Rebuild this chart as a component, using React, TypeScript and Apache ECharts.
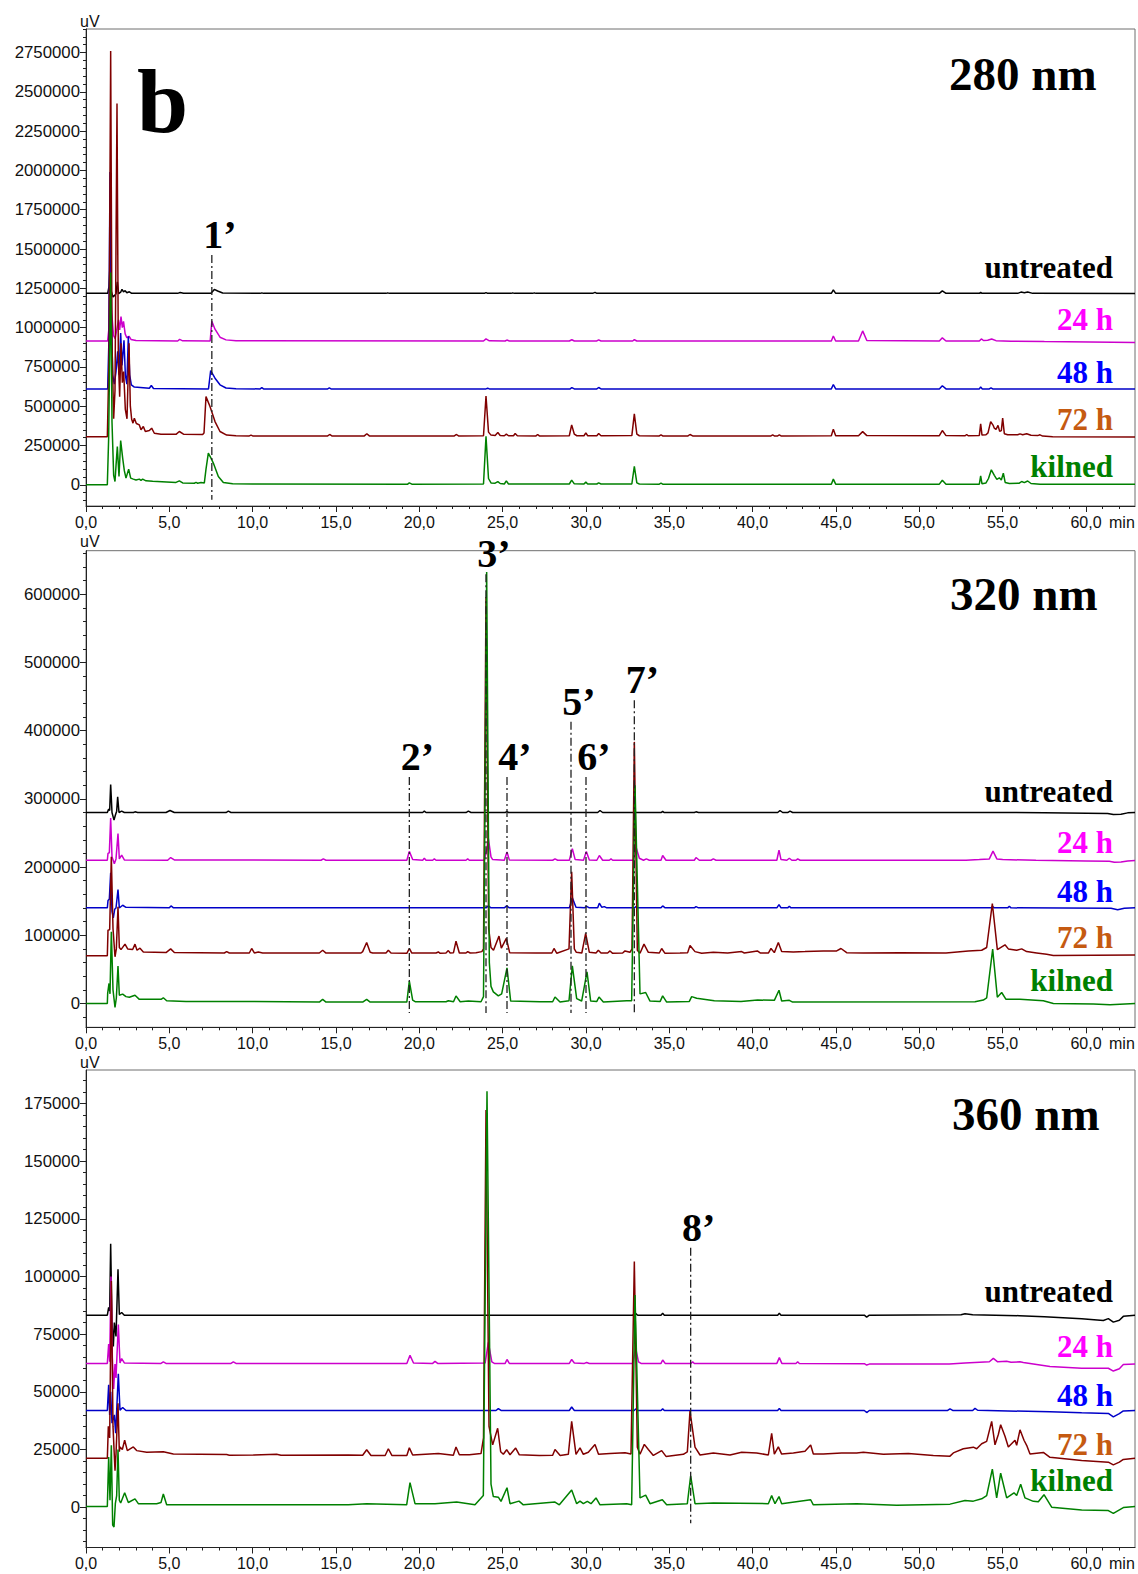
import React, { useEffect, useRef } from 'react';
import * as echarts from 'echarts';

// ---------- axes ----------
const X_MAX = 62.94;
const xMajor = [0, 5, 10, 15, 20, 25, 30, 35, 40, 45, 50, 55, 60];
const y280Major = [0, 250000, 500000, 750000, 1000000, 1250000, 1500000, 1750000, 2000000, 2250000, 2500000, 2750000];
const y320Major = [0, 100000, 200000, 300000, 400000, 500000, 600000];
const y360Major = [0, 25000, 50000, 75000, 100000, 125000, 150000, 175000];

const traceNames = ['untreated', '24 h', '48 h', '72 h', 'kilned'];
const lineColors = ['#000000', '#cc00cc', '#0000c8', '#800000', '#008000'];
const labelColors = ['#000000', '#ff00ff', '#0000ff', '#c55a11', '#008000'];

// ---------- 280 nm ----------
const u280 = [[0,1218000],[1.3,1218000],[1.38,1260000],[1.45,1420000],[1.52,1230000],[1.62,1195000],[1.72,1205000],[1.8,1215000],[1.88,1292000],[1.96,1216000],[2.08,1225000],[2.16,1244000],[2.25,1228000],[2.35,1235000],[2.45,1222000],[2.6,1228000],[2.72,1219000],[5.5,1218000],[5.65,1223000],[5.85,1218000],[7.5,1218000],[7.7,1243000],[7.9,1233000],[8.2,1220000],[10.45,1218000],[10.55,1221000],[10.65,1218000],[18.0,1218000],[18.1,1221000],[18.2,1218000],[23.9,1218000],[24.0,1223000],[24.1,1218000],[25.5,1218000],[25.6,1221000],[25.7,1218000],[26.8,1218000],[26.9,1221000],[27.0,1218000],[30.4,1218000],[30.54,1224000],[30.65,1218000],[44.72,1218000],[44.84,1240000],[44.98,1218000],[51.2,1218000],[51.38,1234000],[51.6,1218000],[53.6,1218000],[53.68,1224000],[53.76,1218000],[55.9,1218000],[56.1,1226000],[56.3,1222000],[56.5,1226000],[56.8,1218000],[62.94,1217000]];
const h24_280 = [[0,915000],[1.3,915000],[1.38,1000000],[1.46,1550000],[1.54,1100000],[1.65,950000],[1.75,930000],[1.85,990000],[1.95,1050000],[2.02,985000],[2.1,1070000],[2.18,1000000],[2.25,1040000],[2.35,960000],[2.45,935000],[2.58,945000],[2.7,925000],[3.0,918000],[5.5,915000],[5.62,925000],[5.8,916000],[7.45,915000],[7.55,1040000],[7.74,990000],[8.04,939000],[8.4,922000],[9.0,916000],[23.85,915000],[24.0,928000],[24.2,916000],[25.15,915000],[25.25,921000],[25.4,915000],[29.0,915000],[29.15,923000],[29.3,915000],[30.65,915000],[30.76,922000],[30.9,915000],[32.8,915000],[32.9,923000],[33.05,915000],[44.72,915000],[44.84,947000],[44.98,915000],[46.35,915000],[46.6,979000],[46.85,918000],[51.2,915000],[51.38,935000],[51.6,915000],[53.6,915000],[53.72,928000],[53.85,918000],[54.1,920000],[54.34,928000],[54.6,917000],[55.5,914000],[57.5,911000],[62.94,906000]];
const h48_280 = [[0,610000],[1.3,610000],[1.37,900000],[1.44,1990000],[1.52,1100000],[1.6,700000],[1.7,640000],[1.8,720000],[1.9,850000],[1.98,700000],[2.08,965000],[2.16,760000],[2.28,920000],[2.36,700000],[2.45,640000],[2.54,945000],[2.62,700000],[2.72,636000],[2.9,622000],[3.8,614000],[3.92,632000],[4.05,613000],[7.35,610000],[7.48,727000],[7.74,678000],[8.04,636000],[8.4,616000],[9.0,611000],[10.45,610000],[10.55,618000],[10.65,610000],[14.5,610000],[14.6,616000],[14.7,610000],[24.0,610000],[24.1,614000],[24.2,610000],[29.05,610000],[29.15,618000],[29.3,610000],[30.65,610000],[30.76,619000],[30.9,610000],[44.72,610000],[44.84,638000],[44.98,610000],[51.2,610000],[51.38,630000],[51.6,610000],[53.6,610000],[53.68,622000],[53.78,610000],[54.2,610000],[54.3,617000],[54.4,610000],[62.94,609000]];
const h72_280 = [[0,305000],[1.28,305000],[1.38,800000],[1.48,2760000],[1.56,900000],[1.66,420000],[1.74,600000],[1.86,2426000],[1.94,800000],[2.02,560000],[2.1,900000],[2.18,650000],[2.26,720000],[2.36,480000],[2.46,420000],[2.58,900000],[2.66,500000],[2.74,417000],[2.82,392000],[2.9,424000],[3.02,390000],[3.2,381000],[3.3,350000],[3.44,371000],[3.56,339000],[3.8,345000],[3.94,360000],[4.1,328000],[4.5,322000],[5.4,321000],[5.6,339000],[5.85,322000],[7.0,320000],[7.08,330000],[7.2,561000],[7.44,498000],[7.74,402000],[8.04,339000],[8.44,316000],[9.0,312000],[9.8,311000],[9.9,316000],[10.0,311000],[14.5,311000],[14.62,320000],[14.75,311000],[16.7,311000],[16.85,325000],[17.0,311000],[22.1,311000],[22.23,320000],[22.35,311000],[23.85,312000],[24.0,565000],[24.15,335000],[24.3,316000],[24.55,314000],[24.71,333000],[24.85,314000],[25.1,312000],[25.22,322000],[25.35,312000],[25.65,312000],[25.75,326000],[25.88,312000],[27.0,311000],[27.1,320000],[27.2,311000],[29.0,312000],[29.14,381000],[29.3,322000],[29.45,312000],[29.88,312000],[29.99,330000],[30.1,312000],[30.65,312000],[30.76,326000],[30.9,312000],[32.75,313000],[32.9,451000],[33.05,322000],[33.2,312000],[34.4,311000],[34.5,318000],[34.6,311000],[36.12,311000],[36.24,320000],[36.4,311000],[41.1,311000],[41.2,317000],[41.3,311000],[41.5,311000],[41.6,317000],[41.7,311000],[44.72,312000],[44.84,354000],[44.98,312000],[46.35,312000],[46.6,338000],[46.85,313000],[51.2,312000],[51.38,345000],[51.6,313000],[52.75,312000],[52.84,320000],[52.93,312000],[53.6,314000],[53.68,388000],[53.76,316000],[54.0,318000],[54.12,330000],[54.28,402000],[54.42,380000],[54.5,360000],[54.6,352000],[54.72,378000],[54.82,340000],[54.92,345000],[55.0,424000],[55.1,325000],[55.3,318000],[55.9,318000],[56.04,324000],[56.2,318000],[56.44,325000],[56.7,315000],[57.1,313000],[57.24,318000],[57.4,310000],[58.0,306000],[62.94,304000]];
const k280 = [[0,0],[1.28,0],[1.36,300000],[1.48,1350000],[1.56,400000],[1.66,60000],[1.74,21000],[1.8,120000],[1.88,243000],[1.98,53000],[2.08,282000],[2.2,170000],[2.3,90000],[2.4,42500],[2.56,99800],[2.68,42500],[2.84,36000],[3.0,30000],[3.2,36000],[3.3,28000],[3.4,36000],[3.6,25000],[4.0,22000],[5.4,15000],[5.6,25000],[5.8,12000],[6.5,10000],[6.6,15000],[6.7,10000],[6.9,14000],[7.1,12000],[7.2,100000],[7.34,201000],[7.5,170000],[7.64,138000],[7.94,53000],[8.24,15000],[8.8,7000],[10.0,5000],[19.3,4000],[19.4,12000],[19.55,4000],[23.85,5000],[24.0,308000],[24.15,40000],[24.3,12000],[24.55,10000],[24.71,20000],[24.85,8000],[25.1,5000],[25.22,25000],[25.35,5000],[29.0,5000],[29.14,30000],[29.3,6000],[29.88,5000],[29.99,17000],[30.1,5000],[30.65,5000],[30.76,12000],[30.9,5000],[32.75,5000],[32.9,117000],[33.05,12000],[33.2,5000],[34.4,4000],[34.5,10000],[34.6,4000],[44.72,4000],[44.84,36000],[44.98,4000],[51.2,4000],[51.38,29000],[51.6,4000],[53.6,4000],[53.68,57000],[53.76,6000],[54.0,12000],[54.15,40000],[54.32,95000],[54.5,60000],[54.65,35000],[54.8,44000],[54.92,30000],[55.04,74000],[55.15,15000],[55.4,8000],[56.0,10000],[56.14,21000],[56.3,14000],[56.5,24000],[56.7,8000],[57.24,4000],[62.94,4000]];

// ---------- 320 nm ----------
const u320 = [[0,280000],[1.28,280000],[1.36,285000],[1.42,283000],[1.48,321000],[1.56,280000],[1.68,268800],[1.76,276000],[1.84,282000],[1.9,303000],[1.98,280000],[2.14,282000],[2.3,280000],[2.85,280000],[2.94,281000],[3.1,280000],[4.8,280000],[5.04,283000],[5.3,280000],[8.4,280000],[8.54,282000],[8.7,280000],[20.2,280000],[20.3,282000],[20.4,280000],[22.8,280000],[22.94,282000],[23.1,280000],[25.15,280000],[25.24,281500],[25.35,280000],[30.7,280000],[30.84,283000],[31.0,280000],[34.5,280000],[34.6,281500],[34.7,280000],[36.5,280000],[36.6,281000],[36.75,280000],[41.5,280000],[41.64,283000],[41.8,280000],[42.1,280000],[42.24,282000],[42.4,280000],[55.5,280000],[57.5,279500],[61.3,278500],[61.64,277000],[62.1,277500],[62.5,279500],[62.94,280000]];
const h24_320 = [[0,210000],[1.28,210000],[1.32,220000],[1.4,221000],[1.48,272000],[1.56,215000],[1.7,205000],[1.8,212000],[1.92,249000],[2.0,212000],[2.14,217500],[2.3,210500],[4.9,210000],[5.08,214000],[5.3,210500],[14.1,210000],[14.24,212000],[14.4,210000],[19.25,210000],[19.4,223000],[19.6,211000],[20.2,210000],[20.3,213000],[20.4,210000],[20.8,210000],[20.9,212000],[21.0,210000],[22.8,210000],[22.9,212000],[23.0,210000],[23.9,210000],[24.04,225000],[24.14,242000],[24.3,215000],[24.4,211000],[25.1,210000],[25.26,222000],[25.4,210500],[28.0,210000],[28.14,212000],[28.3,210000],[29.0,210000],[29.18,227000],[29.35,211000],[29.85,210000],[30.02,223000],[30.2,210500],[30.65,210000],[30.8,217000],[31.0,210000],[31.4,210000],[31.5,212000],[31.6,210000],[32.85,210000],[33.0,229500],[33.2,213000],[33.45,210000],[33.62,212000],[33.8,210000],[34.5,210000],[34.6,217000],[34.8,210000],[36.5,210000],[36.6,214000],[36.8,210000],[37.5,210000],[37.64,212000],[37.8,210000],[41.45,210000],[41.58,224800],[41.7,211000],[42.05,210000],[42.2,213000],[42.35,210000],[42.6,210000],[42.7,212000],[42.85,210000],[52.8,210000],[53.6,211000],[54.2,212000],[54.42,223300],[54.65,212000],[55.0,211000],[57.0,210000],[60.0,209000],[61.4,208500],[61.7,207000],[62.1,207500],[62.5,209000],[62.94,209500]];
const h48_320 = [[0,140200],[1.28,140200],[1.32,151000],[1.4,153000],[1.48,191500],[1.56,135000],[1.64,125500],[1.72,138000],[1.8,140000],[1.92,167000],[2.0,140000],[2.2,144000],[2.4,141000],[5.0,140200],[5.1,143000],[5.25,140200],[24.0,140200],[24.14,143000],[24.3,140200],[25.1,140200],[25.24,143000],[25.4,140200],[29.0,140200],[29.18,154800],[29.4,141000],[29.9,140200],[30.04,142500],[30.2,140200],[30.7,140200],[30.8,147000],[30.95,141000],[31.1,142000],[31.25,140200],[32.9,140200],[33.0,142000],[33.1,140200],[34.5,140200],[34.6,143000],[34.75,140200],[36.5,140200],[36.6,142000],[36.75,140200],[41.45,140200],[41.58,145000],[41.7,140200],[42.1,140200],[42.2,142500],[42.3,140200],[54.3,140200],[54.4,142000],[54.5,140200],[55.3,140200],[55.4,142500],[55.5,140200],[61.5,139500],[61.9,137500],[62.3,139500],[62.94,140200]];
const h72_320 = [[0,69800],[1.28,69800],[1.32,107500],[1.42,108000],[1.52,215000],[1.62,110000],[1.74,68400],[1.82,80000],[1.92,141600],[2.0,82000],[2.1,79000],[2.34,87000],[2.5,80000],[2.8,79000],[2.94,87000],[3.06,78000],[3.24,81000],[3.44,75600],[4.8,74600],[5.08,80000],[5.3,74600],[8.3,74000],[8.44,76000],[8.6,74000],[9.8,74000],[9.94,80600],[10.1,74000],[10.34,75500],[10.6,74000],[14.0,74000],[14.2,78000],[14.4,73800],[16.5,74000],[16.6,76000],[16.84,89400],[17.05,75000],[17.2,74000],[18.0,74000],[18.14,78000],[18.3,74000],[19.25,73500],[19.4,80600],[19.55,73800],[21.0,74000],[21.14,75500],[21.25,73500],[21.6,74000],[21.74,77500],[21.85,74000],[22.05,74500],[22.2,91300],[22.4,74000],[22.8,74000],[22.9,76000],[23.05,74000],[23.4,74500],[23.75,76000],[23.85,80000],[24.0,596000],[24.16,110000],[24.3,82000],[24.45,78000],[24.78,98700],[24.92,81000],[25.22,95300],[25.42,74500],[27.0,74000],[27.95,74000],[28.08,80600],[28.25,73500],[28.98,80000],[29.14,193000],[29.3,80000],[29.42,75000],[29.75,74000],[29.98,102600],[30.2,75000],[30.6,74000],[30.74,78000],[30.9,74000],[31.3,74000],[31.44,77000],[31.6,73500],[32.2,74000],[32.34,77000],[32.64,75000],[32.76,80000],[32.9,383600],[33.08,78000],[33.24,73500],[33.48,87000],[33.74,75000],[34.4,74000],[34.54,80600],[34.74,73500],[35.64,74000],[36.1,74500],[36.24,85000],[36.54,76000],[36.94,73500],[37.64,75000],[38.5,73800],[39.34,76000],[39.5,74000],[40.28,77000],[40.45,74000],[40.95,74000],[41.1,80600],[41.3,74500],[41.54,89400],[41.74,76000],[42.44,75500],[43.14,76000],[44.24,77000],[45.04,77000],[45.3,80600],[45.64,74500],[46.64,74000],[48.84,74500],[51.6,74000],[52.94,77000],[53.74,78000],[54.04,82000],[54.38,146600],[54.68,79000],[55.14,86000],[55.34,80000],[55.84,78000],[56.14,80000],[56.44,76000],[57.04,74000],[57.64,72000],[58.04,70400],[62.94,71000]];
const k320 = [[0,0],[1.28,0],[1.3,14700],[1.38,29300],[1.44,14000],[1.52,105000],[1.62,20000],[1.74,-5900],[1.82,8000],[1.92,55000],[2.0,12000],[2.2,13700],[2.4,10000],[2.6,9000],[2.94,12000],[3.2,6000],[4.5,6000],[4.64,8300],[4.84,4000],[6.0,3000],[8.5,3000],[14.0,2000],[14.2,6000],[14.4,2000],[16.6,2000],[16.84,6000],[17.05,2000],[19.25,2000],[19.4,32700],[19.6,5000],[19.75,2500],[21.6,2500],[21.74,4000],[22.05,2500],[22.2,11000],[22.45,2500],[22.94,3500],[23.7,2500],[23.85,10000],[24.04,632800],[24.2,60000],[24.3,25000],[24.44,17000],[24.74,11000],[24.94,14000],[25.26,52200],[25.48,3500],[27.24,2500],[28.0,2500],[28.14,9400],[28.44,2000],[28.98,4000],[29.18,55100],[29.44,7000],[29.74,3500],[30.06,46400],[30.28,3500],[30.65,3000],[30.78,9400],[31.04,2000],[32.44,4000],[32.74,4000],[32.94,320000],[33.24,14000],[33.58,16000],[33.84,3500],[34.45,3000],[34.6,11000],[34.84,2000],[36.2,3000],[36.34,10000],[36.64,7500],[37.7,4000],[39.3,3000],[40.3,5000],[41.3,4500],[41.58,19400],[41.74,3500],[42.2,4500],[42.4,2000],[53.34,2500],[53.84,5000],[54.04,8000],[54.4,79600],[54.68,9000],[54.94,16000],[55.2,6000],[56.04,6000],[57.44,4000],[58.04,0],[60.44,-1000],[61.44,-2000],[62.94,0]];

// ---------- 360 nm ----------
const u360 = [[0,83200],[1.28,83200],[1.36,86600],[1.42,85000],[1.48,114200],[1.56,80000],[1.64,69600],[1.7,80000],[1.8,74000],[1.92,103100],[2.0,83500],[2.14,84400],[2.3,83200],[32.8,83200],[32.94,84200],[33.1,83200],[34.5,83200],[34.6,84000],[34.7,83200],[41.5,83200],[41.6,84000],[41.7,83200],[46.7,83200],[46.84,82400],[47.0,83200],[52.5,83400],[52.74,83800],[53.2,83400],[56.0,83000],[57.5,82500],[59.74,81700],[61.04,80900],[61.34,81700],[61.64,80200],[62.0,81000],[62.24,82700],[62.94,83200]];
const h24_360 = [[0,62300],[1.28,62300],[1.36,70700],[1.42,63000],[1.5,100000],[1.58,65000],[1.66,51200],[1.74,62000],[1.8,56000],[1.94,79200],[2.04,62500],[2.14,64400],[2.3,62500],[4.5,62300],[4.64,63000],[4.8,62300],[8.7,62300],[8.84,63000],[9.0,62300],[19.25,62300],[19.44,65800],[19.65,62500],[20.8,62300],[20.94,63200],[21.1,62300],[23.95,62500],[24.14,71400],[24.35,63000],[24.5,62300],[25.15,62300],[25.26,64000],[25.4,62300],[29.0,62300],[29.14,64000],[29.3,62500],[29.9,62300],[30.04,62700],[30.2,62300],[32.8,62300],[32.98,68900],[33.15,63000],[33.3,62300],[34.5,62300],[34.6,63800],[34.75,62300],[36.3,62300],[36.4,63000],[36.5,62300],[41.45,62300],[41.6,64800],[41.75,62300],[42.6,62300],[42.7,63000],[42.8,62300],[46.7,62200],[46.84,61600],[47.0,62000],[51.8,62000],[52.74,62500],[54.2,63000],[54.44,64500],[54.7,63000],[55.24,63200],[55.5,62800],[56.04,63000],[56.24,62700],[57.84,61000],[59.74,60200],[61.34,60200],[61.64,59000],[62.0,60000],[62.24,61800],[62.94,62000]];
const h48_360 = [[0,41900],[1.28,41900],[1.36,53000],[1.42,40000],[1.48,50000],[1.56,36400],[1.7,40000],[1.78,32000],[1.94,57800],[2.04,42000],[2.2,43200],[2.4,41900],[24.6,41900],[24.74,42700],[24.9,41900],[29.0,41900],[29.14,43400],[29.3,41900],[32.9,41900],[32.98,42600],[33.1,41900],[34.5,41900],[34.6,42600],[34.7,41900],[41.5,41900],[41.6,42800],[41.7,41900],[46.7,41900],[46.84,41000],[47.0,41900],[51.7,41900],[51.84,42600],[52.0,41900],[53.2,41900],[53.34,42800],[53.5,42000],[57.84,41300],[59.74,40900],[61.34,40600],[61.64,39100],[62.0,40500],[62.24,41700],[62.94,41900]];
const h72_360 = [[0,21200],[1.28,21200],[1.34,35000],[1.42,30000],[1.52,98000],[1.62,35000],[1.74,15800],[1.8,23000],[1.92,45000],[2.0,24000],[2.04,26100],[2.18,25000],[2.32,29000],[2.48,24500],[2.84,26100],[3.04,24500],[3.64,23800],[4.64,24000],[5.24,23000],[8.44,22800],[8.6,22500],[10.04,22600],[11.44,22900],[11.7,22500],[15.74,22600],[16.6,22500],[16.84,24900],[17.1,22400],[17.95,22400],[18.14,25300],[18.35,22400],[19.25,22400],[19.4,25700],[19.6,22600],[21.14,23200],[22.04,22500],[22.2,26100],[22.4,22700],[23.0,22700],[23.7,23200],[23.85,30000],[24.0,172200],[24.18,35000],[24.4,27000],[24.7,34200],[24.88,24000],[25.04,22900],[25.24,24900],[25.44,22700],[25.78,25600],[26.0,22700],[27.2,22400],[28.0,22500],[28.14,25000],[28.45,22400],[28.94,22900],[29.14,37200],[29.4,22900],[29.64,25700],[29.84,22900],[30.14,23800],[30.54,27100],[30.75,22900],[31.44,23200],[32.34,23600],[32.7,23000],[32.9,106500],[33.08,26000],[33.24,22900],[33.5,27200],[33.74,25000],[34.04,22400],[34.54,24500],[34.8,22000],[35.84,22900],[36.08,24000],[36.24,41600],[36.54,26000],[36.84,22600],[37.64,23500],[38.64,22600],[39.34,23800],[40.24,23500],[40.94,22600],[41.14,32000],[41.3,23000],[41.54,26100],[41.74,23000],[42.44,23500],[43.14,24200],[43.48,26900],[43.64,23000],[44.24,23000],[45.34,23500],[46.24,23500],[46.64,23800],[47.84,22900],[49.34,23200],[50.84,22400],[51.84,22100],[52.04,23500],[52.64,25300],[53.24,26000],[53.44,25300],[53.74,27500],[54.04,28500],[54.34,37200],[54.54,27000],[54.74,31500],[54.88,35700],[55.14,30700],[55.34,26100],[55.74,29000],[55.84,26800],[56.04,33500],[56.28,29000],[56.44,26800],[56.64,23000],[57.44,23700],[57.84,21600],[59.74,20200],[61.34,19500],[61.64,18300],[62.0,19500],[62.24,20700],[62.94,21200]];
const k360 = [[0,300],[1.28,300],[1.36,21700],[1.44,3000],[1.52,26800],[1.6,-7800],[1.68,-8600],[1.76,1500],[1.84,5000],[1.92,25000],[2.0,3000],[2.08,1800],[2.32,6200],[2.54,2000],[2.94,3600],[3.14,1500],[4.24,1500],[4.5,2000],[4.64,5700],[4.84,1000],[6.84,1000],[15.74,1000],[16.84,1500],[19.24,1000],[19.44,10600],[19.74,1500],[20.94,1500],[22.24,2200],[23.34,1000],[23.84,5000],[24.06,180300],[24.3,10000],[24.44,4600],[24.74,4300],[24.9,2500],[25.26,8400],[25.44,1500],[25.98,2600],[26.24,1000],[28.14,2200],[28.4,1000],[29.14,7400],[29.44,1500],[29.64,2600],[29.84,1500],[30.08,2500],[30.3,1500],[30.6,4000],[30.84,1000],[32.44,1500],[32.74,1000],[32.94,92000],[33.24,4000],[33.58,5200],[33.84,1500],[34.58,3200],[34.84,1000],[36.08,1500],[36.28,13600],[36.54,1500],[37.64,1800],[40.94,1500],[41.14,5000],[41.34,1500],[41.58,4600],[41.74,1500],[43.48,3200],[43.64,1000],[46.24,1500],[48.64,800],[51.84,1300],[52.74,2900],[53.24,2600],[53.74,3600],[54.04,5000],[54.38,16500],[54.64,4000],[54.88,14700],[55.24,4000],[55.68,6200],[55.84,5000],[56.08,9900],[56.34,4000],[56.84,2500],[57.14,2300],[57.48,5400],[57.94,0],[59.74,-1200],[61.34,-1500],[61.64,-2700],[62.24,-200],[62.94,300]];

// ---------- annotations (peak markers) ----------
const ann280 = [{ name: '1’', t: 7.55, top: 1462000, bottom: -95000 }];
const ann320 = [
  { name: '2’', t: 19.4, top: 332000, bottom: -14200 },
  { name: '3’', t: 24.0, top: 629500, bottom: -14200 },
  { name: '4’', t: 25.26, top: 332000, bottom: -14200 },
  { name: '5’', t: 29.1, top: 413000, bottom: -14200 },
  { name: '6’', t: 30.0, top: 332000, bottom: -14200 },
  { name: '7’', t: 32.9, top: 444700, bottom: -14200 },
];
const ann360 = [{ name: '8’', t: 36.28, top: 112400, bottom: -7000 }];

const panels = [
  { top: 29, height: 477, yMin: -135000, yMax: 2900000, yMajor: y280Major, yMinorStep: 50000, traces: [u280, h24_280, h48_280, h72_280, k280], title: '280 nm', titleX: 949, titleBase: 90, labelBases: [278.3, 330, 383, 430, 476.7], uvY: 21.7, ann: ann280 },
  { top: 550.7, height: 476.6, yMin: -35000, yMax: 664000, yMajor: y320Major, yMinorStep: 20000, traces: [u320, h24_320, h48_320, h72_320, k320], title: '320 nm', titleX: 950, titleBase: 610, labelBases: [801.7, 853.3, 901.7, 948.3, 990.7], uvY: 541.7, ann: ann320 },
  { top: 1070, height: 477.5, yMin: -17500, yMax: 189500, yMajor: y360Major, yMinorStep: 5000, traces: [u360, h24_360, h48_360, h72_360, k360], title: '360 nm', titleX: 952, titleBase: 1130.3, labelBases: [1302.3, 1356.8, 1406.1, 1454.9, 1491.3], uvY: 1062.1, ann: ann360 },
];

const LEFT = 86;
const WIDTH = 1049;
const SANS = '"Liberation Sans", Arial, sans-serif';
const SERIF = '"Liberation Serif", "Times New Roman", serif';

function steps(a: number, b: number, s: number) {
  const r: number[] = [];
  for (let v = a; v <= b + 1e-6; v += s) r.push(Math.round(v * 1000) / 1000);
  return r;
}

const fmtX = (v: number) => v.toFixed(1).replace('.', ',');

function txt(text: string, x: number, yMid: number, size: number, family: string, fill: string, align: string, bold: boolean) {
  return {
    type: 'text', z: 10, silent: true,
    style: { text, x, y: yMid, align, verticalAlign: 'middle', textAlign: align, textVerticalAlign: 'middle', fontSize: size, fontWeight: bold ? 'bold' : 'normal', fontFamily: family, fill },
  };
}

function buildOption() {
  const grid: any[] = [];
  const xAxis: any[] = [];
  const yAxis: any[] = [];
  const series: any[] = [];
  const xMinor = steps(0, 62, 1);

  panels.forEach((p, i) => {
    grid.push({ left: LEFT, width: WIDTH, top: p.top, height: p.height, show: true, borderColor: '#6e6e6e', borderWidth: 1, backgroundColor: 'transparent', containLabel: false, outerBoundsMode: 'none' });
    xAxis.push({
      type: 'value', gridIndex: i, min: 0, max: X_MAX, position: 'bottom',
      axisLine: { show: true, onZero: false, lineStyle: { color: '#222', width: 1 } },
      axisTick: { show: true, customValues: xMajor, length: 6, lineStyle: { color: '#222' } },
      axisLabel: { show: true, customValues: xMajor, formatter: fmtX, margin: 8, fontSize: 16, color: '#111', fontFamily: SANS },
      splitLine: { show: false },
    });
    xAxis.push({
      type: 'value', gridIndex: i, min: 0, max: X_MAX, position: 'bottom', offset: 0,
      axisLine: { show: false, onZero: false },
      axisTick: { show: true, customValues: xMinor, length: 3, lineStyle: { color: '#222' } },
      axisLabel: { show: false },
      splitLine: { show: false },
    });
    const yMinor = steps(Math.ceil(p.yMin / p.yMinorStep) * p.yMinorStep, p.yMax, p.yMinorStep);
    yAxis.push({
      type: 'value', gridIndex: i, min: p.yMin, max: p.yMax, position: 'left',
      axisLine: { show: true, onZero: false, lineStyle: { color: '#222', width: 1 } },
      axisTick: { show: true, customValues: p.yMajor, length: 6, lineStyle: { color: '#222' } },
      axisLabel: { show: true, customValues: p.yMajor, formatter: (v: number) => String(v), margin: 6, fontSize: 16.8, color: '#111', fontFamily: SANS },
      splitLine: { show: false },
    });
    yAxis.push({
      type: 'value', gridIndex: i, min: p.yMin, max: p.yMax, position: 'left', offset: 0,
      axisLine: { show: false, onZero: false },
      axisTick: { show: true, customValues: yMinor, length: 3, lineStyle: { color: '#222' } },
      axisLabel: { show: false },
      splitLine: { show: false },
    });

    p.traces.forEach((tr, j) => {
      series.push({
        type: 'line', name: traceNames[j] + ' ' + p.title, xAxisIndex: 2 * i, yAxisIndex: 2 * i,
        data: tr, showSymbol: false, symbol: 'none', silent: true,
        lineStyle: { color: lineColors[j], width: 1.5 },
      });
    });

    p.ann.forEach((a) => {
      series.push({
        type: 'line', xAxisIndex: 2 * i, yAxisIndex: 2 * i, symbol: 'none', silent: true,
        data: [[a.t, a.top], [a.t, a.bottom]],
        lineStyle: { color: '#222', width: 1.3, type: [8, 3, 2, 3] },
        z: 5,
      });
    });
  });

  return { animation: false, backgroundColor: '#ffffff', grid, xAxis, yAxis, series };
}

function buildGraphics(chart: any) {
  const g: any[] = [];
  panels.forEach((p, i) => {
    g.push(txt(p.title, p.titleX, p.titleBase - 0.34 * 47, 47, SERIF, '#000', 'left', true));
    traceNames.forEach((n, j) => {
      g.push(txt(n, 1113, p.labelBases[j] - 0.34 * 31, 31, SERIF, labelColors[j], 'right', true));
    });
    g.push(txt('uV', 80, p.uvY, 16, SANS, '#111', 'left', false));
    g.push(txt('min', 1109, p.top + p.height + 16, 16, SANS, '#111', 'left', false));
    // peak labels, positioned from the marker line's data coordinates
    p.ann.forEach((a) => {
      const pt = chart.convertToPixel({ xAxisIndex: 2 * i, yAxisIndex: 2 * i }, [a.t, a.top]);
      if (!pt) return;
      const base = pt[1] - 7;
      g.push(txt(a.name, pt[0] + 8, base - 0.34 * 40, 40, SERIF, '#000', 'center', true));
    });
  });
  g.push(txt('b', 137, 132 - 0.34 * 92, 92, SERIF, '#000', 'left', true));
  return g;
}

export default function App() {
  const ref = useRef<HTMLDivElement>(null);
  useEffect(() => {
    if (!ref.current) return;
    const chart = echarts.init(ref.current, undefined, { renderer: 'svg' });
    chart.setOption(buildOption() as any);
    chart.setOption({ graphic: buildGraphics(chart) } as any);
    return () => chart.dispose();
  }, []);
  return <div ref={ref} style={{ position: 'absolute', left: 0, top: 0, width: 1138, height: 1574, background: '#fff' }} />;
}
